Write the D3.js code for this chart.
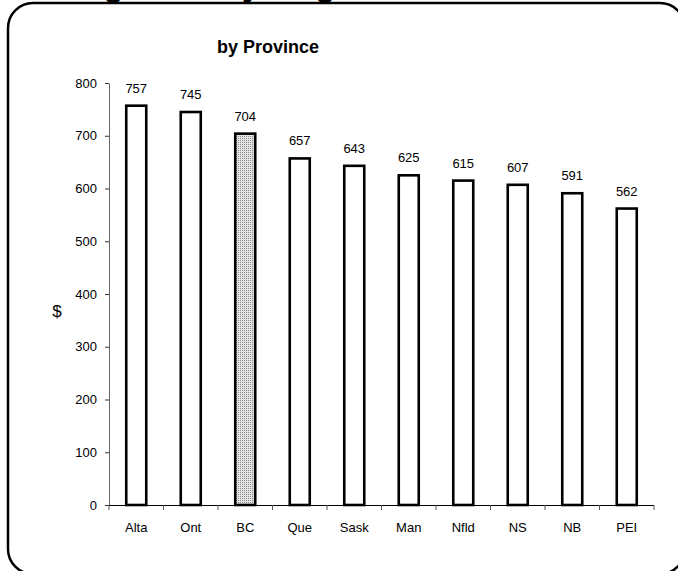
<!DOCTYPE html>
<html>
<head>
<meta charset="utf-8">
<script src="https://cdn.jsdelivr.net/npm/d3@7"></script>
<style>
  html, body { margin: 0; padding: 0; background: #fff; }
  svg { display: block; }
  text { font-family: Arial, "Liberation Sans", sans-serif; fill: #000; }
</style>
</head>
<body>
<svg id="chart" width="678" height="571"></svg>
<script>
// Average weekly wages by province ($)
const provinces = ["Alta", "Ont", "BC", "Que", "Sask", "Man", "Nfld", "NS", "NB", "PEI"];
const wages = [757, 745, 704, 657, 643, 625, 615, 607, 591, 562];
const highlighted = ["BC"];
const yTicks = [0, 100, 200, 300, 400, 500, 600, 700, 800];
const titleLine1 = "Average Weekly Wages";
const titleLine2 = "by Province";
const yLabel = "$";

const svg = d3.select("#chart");
const margin = { left: 109, right: 654, top: 83, bottom: 505 };
const labelSize = 13;

// dotted fill for the highlighted bar
const defs = svg.append("defs");
const pat = defs.append("pattern")
  .attr("id", "dots")
  .attr("patternUnits", "userSpaceOnUse")
  .attr("width", 2).attr("height", 2);
pat.append("rect").attr("width", 2).attr("height", 2).attr("fill", "#e4e4e4");
pat.append("rect").attr("width", 1).attr("height", 1).attr("fill", "#8a8a8a");

// rounded outer frame
svg.append("rect")
  .attr("x", 8).attr("y", 3)
  .attr("width", 677).attr("height", 571)
  .attr("rx", 25).attr("ry", 25)
  .attr("fill", "none").attr("stroke", "#000").attr("stroke-width", 2.5);

// titles (first line runs off the top edge)
svg.append("text")
  .attr("x", 16).attr("y", -4)
  .attr("font-size", 32).attr("font-weight", "bold")
  .text(titleLine1);
svg.append("text")
  .attr("x", 268).attr("y", 53)
  .attr("text-anchor", "middle")
  .attr("font-size", 18).attr("font-weight", "bold")
  .text(titleLine2);

const x = d3.scaleBand()
  .domain(provinces)
  .range([margin.left, margin.right])
  .paddingInner(0).paddingOuter(0);

const y = d3.scaleLinear()
  .domain([0, 800])
  .range([margin.bottom, margin.top]);

// y axis
const yAxis = svg.append("g")
  .attr("transform", `translate(${margin.left},0)`)
  .call(d3.axisLeft(y).tickValues(yTicks).tickSize(4).tickPadding(8).tickSizeOuter(0));
yAxis.select(".domain").attr("stroke", "#666");
yAxis.selectAll(".tick line").attr("stroke", "#333");
yAxis.selectAll(".tick text")
  .attr("font-size", labelSize)
  .attr("font-family", "Arial, 'Liberation Sans', sans-serif")
  .attr("fill", "#000");

// bars
const barW = 20;
const rows = provinces.map((p, i) => ({ p, v: wages[i] }));
svg.append("g").selectAll("rect")
  .data(rows)
  .join("rect")
  .attr("x", d => x(d.p) + x.bandwidth() / 2 - barW / 2)
  .attr("y", d => y(d.v))
  .attr("width", barW)
  .attr("height", d => y(0) - y(d.v))
  .attr("fill", d => highlighted.includes(d.p) ? "url(#dots)" : "#fff")
  .attr("stroke", "#000")
  .attr("stroke-width", 2.6);

// value labels
svg.append("g").selectAll("text")
  .data(rows)
  .join("text")
  .attr("x", d => x(d.p) + x.bandwidth() / 2)
  .attr("y", d => y(d.v) - 13)
  .attr("text-anchor", "middle")
  .attr("font-size", labelSize)
  .text(d => d.v);

// x axis with ticks at category boundaries
const xAxisG = svg.append("g").attr("transform", `translate(0,${margin.bottom})`);
xAxisG.append("line")
  .attr("x1", margin.left).attr("x2", margin.right)
  .attr("y1", 0.5).attr("y2", 0.5)
  .attr("stroke", "#000").attr("stroke-width", 1);
const boundaries = provinces.map(p => x(p)).concat([x.range()[1]]);
xAxisG.selectAll("line.tk")
  .data(boundaries)
  .join("line")
  .attr("class", "tk")
  .attr("x1", d => d).attr("x2", d => d)
  .attr("y1", 0).attr("y2", 5)
  .attr("stroke", "#555");
xAxisG.selectAll("text")
  .data(provinces)
  .join("text")
  .attr("x", d => x(d) + x.bandwidth() / 2)
  .attr("y", 27)
  .attr("text-anchor", "middle")
  .attr("font-size", labelSize)
  .text(d => d);

// y axis label
svg.append("text")
  .attr("x", 57).attr("y", 317)
  .attr("text-anchor", "middle")
  .attr("font-size", 17)
  .text(yLabel);
</script>
</body>
</html>
